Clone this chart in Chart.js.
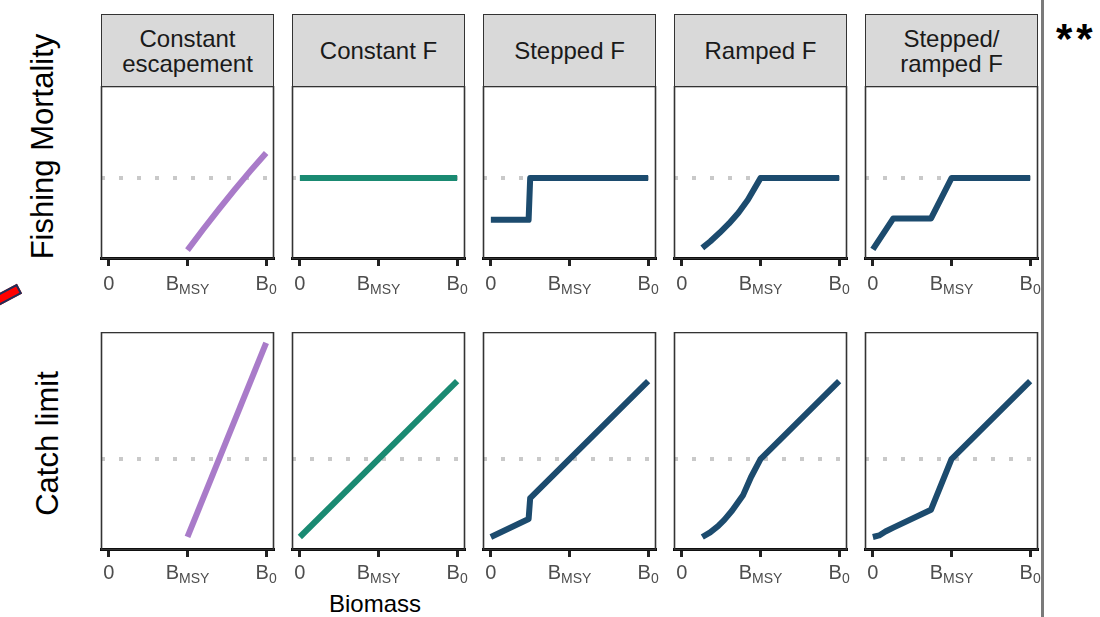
<!DOCTYPE html>
<html>
<head>
<meta charset="utf-8">
<script src="https://cdn.jsdelivr.net/npm/chart.js@4.4.1/dist/chart.umd.min.js"></script>
<style>
  body { margin: 0; width: 1100px; height: 617px; overflow: hidden; background: #fff; position: relative;
         font-family: 'Liberation Sans', Arial, sans-serif; }
  .panel { position: absolute; }
  .strip { position: absolute; top: 14px; width: 173px; height: 73px; box-sizing: border-box; background: #d9d9d9;
           border: 1.5px solid #333; display: flex; align-items: center; justify-content: center; text-align: center;
           font-size: 24px; line-height: 25px; color: #1a1a1a; white-space: pre-line; }
  .ytitle { position: absolute; width: 320px; height: 31px; line-height: 31px; font-size: 31px; text-align: center;
            color: #000; transform: rotate(-90deg); white-space: nowrap; }
  .xtitle { position: absolute; left: 275px; top: 592px; width: 200px; text-align: center; font-size: 24px; line-height: 24px; color: #000; }
  .divider { position: absolute; left: 1041px; top: 0; width: 3px; height: 617px; background: #7a7a7a; }
  .stars { position: absolute; left: 1056px; top: 18px; font-size: 42px; line-height: 42px; font-weight: bold; color: #000; letter-spacing: 4px; }
  .marker { position: absolute; left: -20px; top: 293px; width: 42px; height: 11px; box-sizing: border-box; background: #f00;
            border: 2px solid #1c2f5a; transform: rotate(-28deg); }
</style>
</head>
<body>
<div class="marker"></div>
<div class="divider"></div>
<div class="stars">**</div>
<div class="ytitle" style="left:-118px; top:131px;">Fishing Mortality</div>
<div class="ytitle" style="left:-113px; top:428px;">Catch limit</div>
<div class="xtitle">Biomass</div>
<script>
const strategies = ['Constant\nescapement', 'Constant F', 'Stepped F', 'Ramped F', 'Stepped/\nramped F'];
const strategyColors = ['#a97bc9', '#1a8a72', '#1c4b6e', '#1c4b6e', '#1c4b6e'];
const xTickValues = [0, 0.5, 1];
const xTickLabels = [['0', ''], ['B', 'MSY'], ['B', '0']];
const referenceLevel = 1;

// fishing mortality (relative to FMSY) against biomass (relative to B0)
const fEscapeB = [0.5, 0.6, 0.7, 0.8, 0.9, 1.0];
const fEscape = [0, 0.29, 0.57, 0.84, 1.1, 1.35];
const fConstB = [0, 1];
const fConst = [1, 1];
const fStepB = [0, 0.24, 0.25, 1];
const fStep = [0.42, 0.42, 1, 1];
const fRampB = [0.13, 0.18, 0.24, 0.3, 0.36, 0.42, 0.5, 1];
const fRamp = [0.03, 0.12, 0.24, 0.37, 0.52, 0.7, 1, 1];
const fStepRampB = [0, 0.13, 0.37, 0.5, 1];
const fStepRamp = [0.01, 0.44, 0.44, 1, 1];

// catch limit (relative to MSY)
const cEscapeB = [0.5, 1];
const cEscape = [0, 2.49];
const cConstB = [0, 1];
const cConst = [0, 2];
const cStepB = [0, 0.24, 0.25, 1];
const cStep = [0, 0.23, 0.5, 2];
const cRampB = [0.13, 0.18, 0.23, 0.27, 0.32, 0.39, 0.44, 0.5, 1];
const cRamp = [0, 0.06, 0.14, 0.22, 0.34, 0.54, 0.77, 1, 2];
const cStepRampB = [0, 0.04, 0.08, 0.13, 0.37, 0.5, 1];
const cStepRamp = [0, 0.02, 0.07, 0.12, 0.35, 1, 2];

const panelLefts = [101, 292, 483, 674, 865];
const panelWidth = 173;
const pad = 14;

const rows = [
  { top: 86, height: 172, yMin: -0.11, yMax: 2.28, labelOffset: 32,
    xs: [fEscapeB, fConstB, fStepB, fRampB, fStepRampB], ys: [fEscape, fConst, fStep, fRamp, fStepRamp] },
  { top: 332, height: 217, yMin: -0.154, yMax: 2.63, labelOffset: 30,
    xs: [cEscapeB, cConstB, cStepB, cRampB, cStepRampB], ys: [cEscape, cConst, cStep, cRamp, cStepRamp] }
];

const FONT = '"Liberation Sans", Arial, sans-serif';

const panelDecor = {
  id: 'panelDecor',
  afterDraw(chart, args, opts) {
    const { ctx, chartArea: a } = chart;
    const xs = chart.scales.x;
    ctx.save();
    ctx.strokeStyle = '#333';
    ctx.lineWidth = 1.6;
    ctx.strokeRect(a.left + 0.5, a.top + 0.5, a.right - a.left - 1, a.bottom - a.top);
    ctx.fillStyle = '#4d4d4d';
    ctx.textAlign = 'left';
    ctx.textBaseline = 'alphabetic';
    xTickValues.forEach((v, i) => {
      const [main, sub] = xTickLabels[i];
      ctx.font = '20px ' + FONT;
      const w1 = ctx.measureText(main).width;
      ctx.font = '14px ' + FONT;
      const w2 = sub ? ctx.measureText(sub).width : 0;
      const x = xs.getPixelForValue(v) - (w1 + w2) / 2;
      const y = a.bottom + opts.labelOffset;
      ctx.font = '20px ' + FONT;
      ctx.fillText(main, x, y);
      if (sub) {
        ctx.font = '14px ' + FONT;
        ctx.fillText(sub, x + w1, y + 4);
      }
    });
    ctx.restore();
  }
};

rows.forEach((row, r) => {
  strategies.forEach((name, i) => {
    if (r === 0) {
      const strip = document.createElement('div');
      strip.className = 'strip';
      strip.style.left = panelLefts[i] + 'px';
      strip.textContent = name;
      document.body.appendChild(strip);
    }
    const box = document.createElement('div');
    box.className = 'panel';
    box.style.left = (panelLefts[i] - pad) + 'px';
    box.style.top = row.top + 'px';
    const canvas = document.createElement('canvas');
    canvas.width = panelWidth + 2 * pad;
    canvas.height = row.height + 8 + 40;
    box.appendChild(canvas);
    document.body.appendChild(box);

    const series = row.xs[i].map((b, k) => ({ x: b, y: row.ys[i][k] }));
    new Chart(canvas, {
      type: 'line',
      data: {
        datasets: [
          { data: series, borderColor: strategyColors[i], borderWidth: 6, pointRadius: 0,
            tension: 0, borderJoinStyle: 'round', borderCapStyle: 'butt' },
          { data: [{ x: -0.05, y: referenceLevel }, { x: 1.05, y: referenceLevel }],
            borderColor: '#c9c9c9', borderWidth: 4, borderDash: [4, 14], pointRadius: 0 }
        ]
      },
      options: {
        responsive: false,
        animation: false,
        devicePixelRatio: 1,
        layout: { padding: { left: pad, right: pad, top: 0, bottom: 40 } },
        plugins: { legend: { display: false }, tooltip: { enabled: false }, panelDecor: { labelOffset: row.labelOffset } },
        scales: {
          x: {
            type: 'linear', min: -0.05, max: 1.05,
            afterBuildTicks: s => { s.ticks = xTickValues.map(v => ({ value: v })); },
            afterFit: s => { s.height = 8; },
            ticks: { display: false },
            grid: { display: true, drawOnChartArea: false, drawTicks: true, tickLength: 8, tickColor: '#222', tickWidth: 3 },
            border: { display: true, color: '#000', width: 3 }
          },
          y: { display: false, min: row.yMin, max: row.yMax }
        }
      },
      plugins: [panelDecor]
    });
  });
});
</script>
</body>
</html>
